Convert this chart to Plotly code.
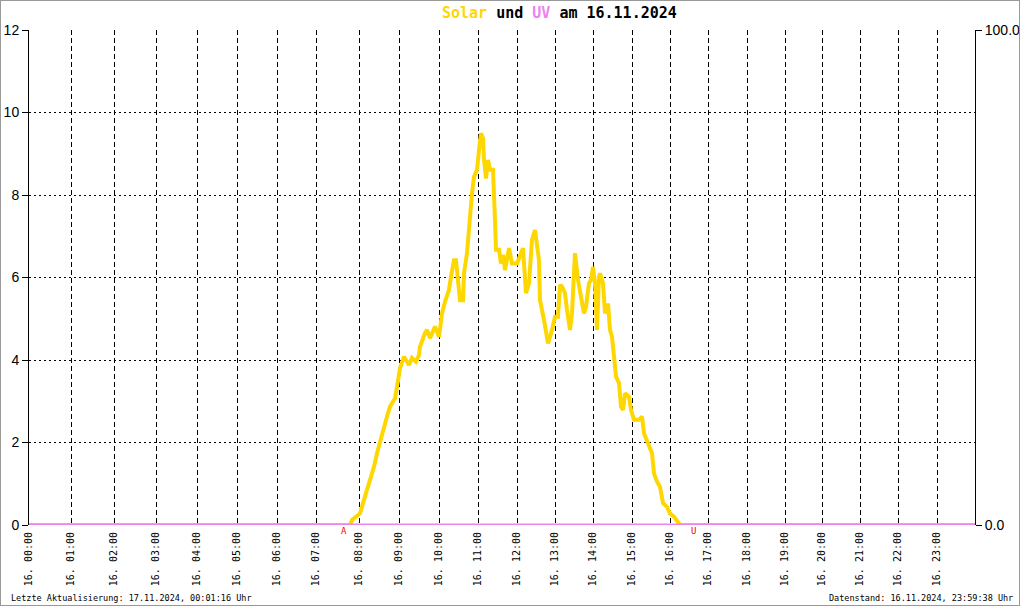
import plotly.graph_objects as go

# --- data -------------------------------------------------------------
# The original chart plots against the logger's sample index; each hour
# starts at the following sample index (read from the gridline positions).
hour_start_sample = [0, 42, 85, 127, 168, 208, 248, 287, 330, 370, 410, 449,
                     488, 526, 564, 603, 641, 679, 718, 756, 793, 831, 869, 908]
hour_labels = [f"16. {h:02d}:00" for h in range(24)]
n_samples = 946

solar_sample = [0, 321, 323, 331, 335, 338, 341, 345, 348, 351, 355, 358, 361,
                366, 368, 371, 375, 380, 383, 387, 390, 391, 396, 398, 401, 406,
                410, 413, 416, 420, 422, 425, 427, 430, 431, 434, 435, 438, 440,
                441, 443, 445, 448, 450, 452, 454, 455, 457, 459, 461, 464, 466,
                467, 470, 472, 474, 476, 480, 483, 488, 494, 497, 500, 503, 506,
                510, 511, 515, 519, 523, 526, 529, 531, 533, 536, 538, 541, 543,
                545, 546, 549, 551, 555, 557, 560, 562, 564, 566, 568, 570, 571,
                574, 576, 579, 581, 583, 585, 587, 590, 592, 594, 596, 600, 602,
                605, 610, 613, 615, 619, 623, 625, 628, 631, 634, 638, 641, 645,
                649, 651, 946]
solar_value = [0, 0, 0.12, 0.28, 0.61, 0.85, 1.17, 1.41, 1.74, 2.02, 2.42, 2.63,
               2.87, 3.07, 3.35, 3.80, 4.08, 3.88, 4.05, 3.96, 4.12, 4.32, 4.65,
               4.73, 4.53, 4.81, 4.56, 5.13, 5.41, 5.70, 6.02, 6.42, 6.42, 5.78,
               5.45, 5.45, 6.10, 6.59, 7.15, 7.64, 8.04, 8.44, 8.61, 9.09, 9.50,
               9.37, 8.85, 8.40, 8.85, 8.61, 8.61, 7.39, 6.67, 6.67, 6.34, 6.55,
               6.18, 6.71, 6.34, 6.34, 6.71, 5.62, 5.86, 6.91, 7.15, 6.42, 5.45,
               4.97, 4.40, 4.73, 5.05, 5.05, 5.82, 5.78, 5.62, 5.21, 4.73, 5.13,
               6.26, 6.59, 5.94, 5.66, 5.13, 5.29, 5.86, 5.94, 6.26, 5.86, 4.73,
               6.02, 6.10, 5.86, 5.13, 5.37, 4.73, 4.56, 4.16, 3.60, 3.44, 2.87,
               2.79, 3.19, 3.11, 2.79, 2.55, 2.55, 2.63, 2.22, 1.98, 1.74, 1.25,
               1.05, 0.93, 0.53, 0.44, 0.28, 0.20, 0.08, 0, 0]

uv_sample = [0, 946]
uv_value = [0.0, 0.0]

sunrise_sample = 315
sunset_sample = 664

left_ticks = [0, 2, 4, 6, 8, 10, 12]
right_ticks = [0, 100]
right_ticktext = ["0.0", "100.0"]

title_date = "16.11.2024"
footer_left = "Letzte Aktualisierung: 17.11.2024, 00:01:16 Uhr"
footer_right = "Datenstand: 16.11.2024, 23:59:38 Uhr"

# --- styling ----------------------------------------------------------
SOLAR = "#FFD700"
UV = "#EE82EE"
MONO = "DejaVu Sans Mono"
SANS = "Liberation Sans"

fig = go.Figure()
fig.add_trace(go.Scatter(x=solar_sample, y=solar_value, mode="lines",
                         line=dict(color=SOLAR, width=4), yaxis="y",
                         showlegend=False, hoverinfo="skip"))
fig.add_trace(go.Scatter(x=uv_sample, y=uv_value, mode="lines",
                         line=dict(color=UV, width=3), yaxis="y2",
                         showlegend=False, hoverinfo="skip"))

L, R, T, B = 29, 45, 30, 81
W, H = 1020, 606
pw, ph = W - L - R, H - T - B

fig.update_layout(
    width=W, height=H,
    margin=dict(l=L, r=R, t=T, b=B, pad=0, autoexpand=False),
    paper_bgcolor="white", plot_bgcolor="white",
    xaxis=dict(range=[0, n_samples], tickvals=hour_start_sample,
               ticktext=hour_labels, tickangle=-90, automargin=False,
               tickfont=dict(family=MONO, size=10, color="black"),
               showgrid=True, gridcolor="black", gridwidth=1,
               griddash="5px,3px", zeroline=False, showline=False,
               ticks="", ticklabelstandoff=4),
    yaxis=dict(range=[0, 12], tickvals=left_ticks, automargin=False,
               tickfont=dict(family=SANS, size=14, color="black"),
               showgrid=True, gridcolor="black", gridwidth=1,
               griddash="2px,3px", zeroline=False,
               showline=True, linecolor="black", linewidth=1,
               ticks="outside", ticklen=6, tickcolor="black"),
    yaxis2=dict(range=[0, 100], tickvals=right_ticks, ticktext=right_ticktext,
                overlaying="y", side="right", showgrid=False, zeroline=False,
                automargin=False,
                tickfont=dict(family=SANS, size=14, color="black"),
                showline=True, linecolor="black", linewidth=1,
                ticks="outside", ticklen=6, tickcolor="black"),
)

def px_x(p):
    return (p - L) / pw

def px_y(p):
    return (H - B - p) / ph

annotations = [
    dict(text=f'<b><span style="color:{SOLAR}">Solar</span> und '
              f'<span style="color:{UV}">UV</span> am {title_date}</b>',
         xref="paper", yref="paper", x=px_x(559), y=px_y(13),
         xanchor="center", yanchor="middle", showarrow=False,
         font=dict(family=MONO, size=15, color="black")),
    dict(text=footer_left, xref="paper", yref="paper", x=px_x(9), y=px_y(598),
         xanchor="left", yanchor="middle", showarrow=False,
         font=dict(family=MONO, size=8.5, color="black")),
    dict(text=footer_right, xref="paper", yref="paper", x=px_x(1015), y=px_y(598),
         xanchor="right", yanchor="middle", showarrow=False,
         font=dict(family=MONO, size=8.5, color="black")),
    dict(text="A", xref="x", yref="paper", x=sunrise_sample, y=px_y(531),
         xanchor="center", yanchor="middle", showarrow=False,
         font=dict(family=MONO, size=9, color="red")),
    dict(text="U", xref="x", yref="paper", x=sunset_sample, y=px_y(531),
         xanchor="center", yanchor="middle", showarrow=False,
         font=dict(family=MONO, size=9, color="red")),
]
fig.update_layout(annotations=annotations)

fig.add_shape(type="rect", xref="paper", yref="paper",
              x0=px_x(0), x1=px_x(W), y0=px_y(H), y1=px_y(0),
              line=dict(color="#999999", width=2), layer="above")

fig.write_html("out.html",
               config={"displayModeBar": False, "staticPlot": True},
               post_script="document.body.style.margin='0';"
                           "document.body.style.overflow='hidden';")
